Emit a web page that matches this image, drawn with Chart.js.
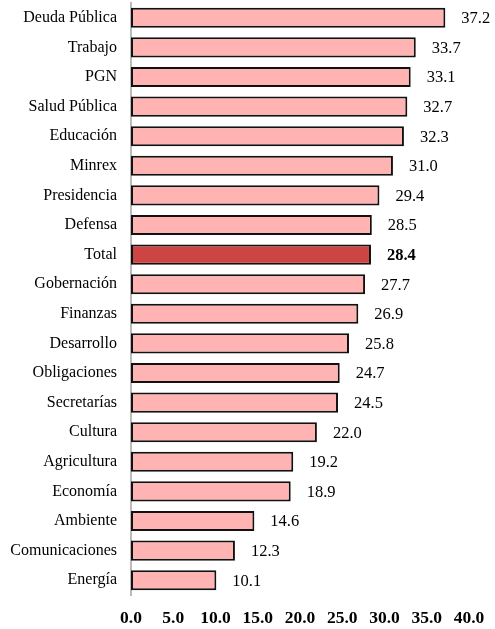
<!DOCTYPE html>
<html><head><meta charset="utf-8">
<script src="https://cdn.jsdelivr.net/npm/chart.js@4"></script>
<style>html,body{margin:0;padding:0;background:#fff}canvas{display:block}</style>
</head><body><canvas id="c" width="495" height="629"></canvas>
<script>
const categories = ["Deuda Pública","Trabajo","PGN","Salud Pública","Educación","Minrex","Presidencia","Defensa","Total","Gobernación","Finanzas","Desarrollo","Obligaciones","Secretarías","Cultura","Agricultura","Economía","Ambiente","Comunicaciones","Energía"];
const values = [37.2,33.7,33.1,32.7,32.3,31.0,29.4,28.5,28.4,27.7,26.9,25.8,24.7,24.5,22.0,19.2,18.9,14.6,12.3,10.1];
const highlight = "Total";
const xTicks = [0,5,10,15,20,25,30,35,40];

const FONT = "'Liberation Serif', 'Times New Roman', serif";
const valueLabels = {
  id:'valueLabels',
  afterDatasetsDraw(chart){
    const ctx = chart.ctx;
    const meta = chart.getDatasetMeta(0);
    ctx.save();
    ctx.fillStyle = '#000';
    ctx.textBaseline = 'middle';
    ctx.textAlign = 'left';
    meta.data.forEach((bar,i)=>{
      const bold = categories[i]===highlight;
      ctx.font = (bold?'bold ':'') + '16.5px ' + FONT;
      ctx.fillText(values[i].toFixed(1), bar.x + 16, bar.y + 1);
    });
    ctx.restore();
  }
};

new Chart(document.getElementById('c'), {
  type:'bar',
  data:{
    labels:categories,
    datasets:[{
      data:values,
      backgroundColor:categories.map(c=>c===highlight?'#cc4444':'#ffb3b3'),
      borderColor:'#111',
      borderWidth:2,
      borderSkipped:false,
      barPercentage:0.85,
      categoryPercentage:0.8
    }]
  },
  options:{
    indexAxis:'y',
    responsive:false,
    animation:false,
    devicePixelRatio:1,
    layout:{padding:{top:3,right:26,bottom:1,left:0}},
    plugins:{legend:{display:false},tooltip:{enabled:false}},
    scales:{
      x:{
        min:0,max:40,
        afterBuildTicks(axis){axis.ticks = xTicks.map(v=>({value:v}));},
        afterFit(scale){scale.height = 33; scale.paddingLeft = 0; scale.paddingRight = 0;},
        grid:{display:false,drawTicks:false},
        border:{display:false},
        ticks:{font:{family:FONT,size:17.5,weight:'bold'},color:'#000',padding:13,maxRotation:0,
          callback:(v)=>Number(v).toFixed(1)}
      },
      y:{
        afterFit(scale){scale.width = 131; scale.paddingTop = 0; scale.paddingBottom = 0;},
        grid:{display:false,drawTicks:false},
        border:{display:true,color:'#bbbbbb',width:2},
        ticks:{font:{family:FONT,size:16},color:'#000',padding:14}
      }
    }
  },
  plugins:[valueLabels]
});
</script></body></html>
